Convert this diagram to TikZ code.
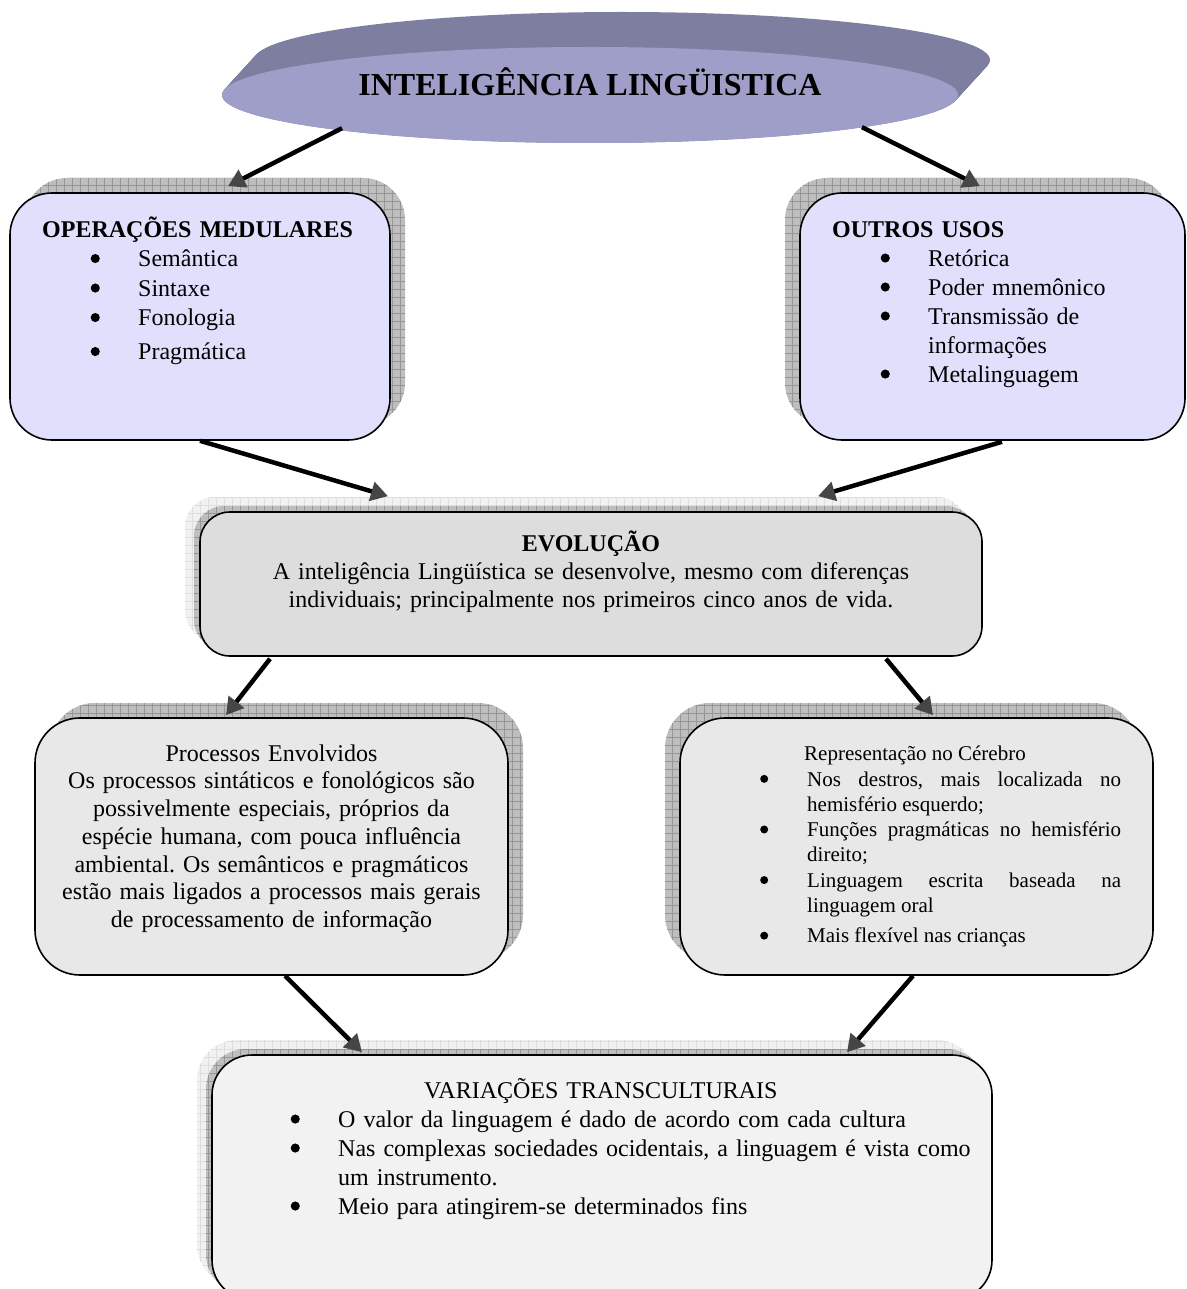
\documentclass[tikz,border=0pt]{standalone}
\usepackage{fontspec}
\setmainfont{Liberation Serif}
\usetikzlibrary{arrows.meta,patterns.meta,calc,shapes.geometric}

\definecolor{discfront}{RGB}{158,158,200}
\definecolor{disctop}{RGB}{126,127,160}
\definecolor{lavender}{RGB}{224,224,252}
\definecolor{evofill}{RGB}{221,221,221}
\definecolor{midfill}{RGB}{232,232,232}
\definecolor{varfill}{RGB}{242,242,242}
\definecolor{shadowbg}{RGB}{190,190,190}
\definecolor{shadowline}{RGB}{150,150,150}
\definecolor{paleshadow}{RGB}{241,241,241}
\definecolor{paleline}{RGB}{222,222,222}
\definecolor{tipgray}{RGB}{70,70,70}

% round bullet drawn as a small disc, scaled to the current font
\newcommand\bul{\tikz[baseline=-0.34em]\fill[black] (0,0) circle (0.19em);}
% bullet item: #1 = bullet indent, #2 = text indent, #3 = text
\newcommand\bitem[3]{\par\hangindent=#2\hangafter=1\noindent\makebox[#2][l]{\hspace*{#1}\bul}#3}

\tikzset{
  box/.style={draw=black, line width=1.6pt, inner sep=0pt},
  dropshade/.style={fill=shadowbg,
    postaction={pattern={Hatch[angle=0,distance=8pt,line width=0.7pt]}, pattern color=shadowline}},
  paleshade/.style={fill=paleshadow,
    postaction={pattern={Hatch[angle=0,distance=8pt,line width=0.6pt]}, pattern color=paleline}},
  txt/.style={inner sep=0pt, anchor=north west, align=left},
  conn/.style={line width=4.5pt, -{Triangle[length=17pt,width=19pt,color=tipgray]}},
}

\begin{document}
\frenchspacing
\begin{tikzpicture}[x=1pt,y=-1pt]
\useasboundingbox (0,0) rectangle (1186,1289);
\begin{scope}
\clip (0,0) rectangle (1186,1289);

% ---- title disc: extruded ellipse ----
\foreach \i in {0,...,40}
  \fill[disctop] ({622-0.8*\i},{60+0.875*\i}) ellipse [x radius=368, y radius=48];
\node[ellipse, fill=discfront, minimum width=736pt, minimum height=96pt, inner sep=0pt] (title) at (590,95) {};
\node[anchor=base, inner sep=0pt, font=\fontsize{32pt}{36pt}\selectfont\bfseries] (titletext) at (590,96) {INTELIGÊNCIA LINGÜISTICA};

% ---- shadows ----
\path[dropshade, rounded corners=42pt] (25,178) rectangle (405,425);
\path[dropshade, rounded corners=42pt] (785,178) rectangle (1170,425);
\path[paleshade, rounded corners=30pt] (185,497) rectangle (967,641);
\path[dropshade, rounded corners=30pt] (194,506) rectangle (976,650);
\path[dropshade, rounded corners=45pt] (50,703) rectangle (523,960);
\path[dropshade, rounded corners=45pt] (665,703) rectangle (1138,960);
\path[paleshade, rounded corners=40pt] (197,1040) rectangle (977,1285);
\path[dropshade, rounded corners=40pt] (206,1049) rectangle (986,1294);

% ---- boxes ----
\node[box, fill=lavender, rounded corners=42pt, minimum width=380pt, minimum height=247pt] (op) at (200,316.5) {};
\node[box, fill=lavender, rounded corners=42pt, minimum width=385pt, minimum height=247pt] (out) at (992.5,316.5) {};
\node[box, fill=evofill, rounded corners=30pt, minimum width=782pt, minimum height=144pt] (evo) at (591,584) {};
\node[box, fill=midfill, rounded corners=45pt, minimum width=473pt, minimum height=257pt] (proc) at (271.5,846.5) {};
\node[box, fill=midfill, rounded corners=45pt, minimum width=473pt, minimum height=257pt] (rep) at (916.5,846.5) {};
\node[box, fill=varfill, rounded corners=40pt, minimum width=780pt, minimum height=245pt] (var) at (602,1177.5) {};

% ---- texts ----
\node[txt, text width=340pt, font=\fontsize{24pt}{29.5pt}\selectfont] (optext) at (42,213) {%
  \rule{0pt}{24pt}\textbf{OPERAÇÕES MEDULARES}
  \bitem{48.5pt}{96pt}{Semântica}
  \bitem{48.5pt}{96pt}{Sintaxe}
  \bitem{48.5pt}{96pt}{Fonologia}
  \par\vspace{4.5pt}
  \bitem{48.5pt}{96pt}{Pragmática}};

\node[txt, text width=330pt, font=\fontsize{24pt}{29pt}\selectfont] (outtext) at (832,213) {%
  \rule{0pt}{24pt}\textbf{OUTROS USOS}
  \bitem{48.5pt}{96pt}{Retórica}
  \bitem{48.5pt}{96pt}{Poder mnemônico}
  \bitem{48.5pt}{96pt}{Transmissão de\newline informações}
  \bitem{48.5pt}{96pt}{Metalinguagem}};

\node[inner sep=0pt, anchor=north, align=center, text width=770pt, font=\fontsize{24pt}{28pt}\selectfont] (evotext) at (591,527) {%
  \rule{0pt}{24pt}\textbf{EVOLUÇÃO}\\
  A inteligência Lingüística se desenvolve, mesmo com diferenças\\
  individuais; principalmente nos primeiros cinco anos de vida.};

\node[inner sep=0pt, anchor=north, align=center, text width=460pt, font=\fontsize{24pt}{27.7pt}\selectfont] (proctext) at (271.5,737) {%
  \rule{0pt}{24pt}Processos Envolvidos\\
  Os processos sintáticos e fonológicos são\\
  possivelmente especiais, próprios da\\
  espécie humana, com pouca influência\\
  ambiental. Os semânticos e pragmáticos\\
  estão mais ligados a processos mais gerais\\
  de processamento de informação};

\node[inner sep=0pt, anchor=north west, align=justify, text width=363pt, font=\fontsize{21pt}{25.3pt}\selectfont] (reptext) at (758,739.5) {%
  \noindent\rule{0pt}{21pt}\hspace*{46pt}Representação no Cérebro
  \bitem{2pt}{49pt}{Nos destros, mais localizada no\linebreak hemisfério esquerdo;}
  \bitem{2pt}{49pt}{Funções pragmáticas no hemisfério\linebreak direito;}
  \bitem{2pt}{49pt}{Linguagem escrita baseada na\linebreak linguagem oral}
  \par\vspace{5pt}
  \bitem{2pt}{49pt}{Mais flexível nas crianças}};

\node[txt, text width=692pt, font=\fontsize{24pt}{29pt}\selectfont] (vartext) at (289,1074) {%
  \rule{0pt}{24pt}\hspace*{135pt}VARIAÇÕES TRANSCULTURAIS
  \bitem{1.5pt}{49pt}{O valor da linguagem é dado de acordo com cada cultura}
  \bitem{1.5pt}{49pt}{Nas complexas sociedades ocidentais, a linguagem é vista como\newline um instrumento.}
  \bitem{1.5pt}{49pt}{Meio para atingirem-se determinados fins}};

% ---- connectors ----
\draw[conn] ($(title.south)+(-248,-15)$) -- ($(op.north)+(28,-6)$);
\draw[conn] ($(title.south)+(272,-16)$) -- ($(out.north)+(-12.5,-6)$);
\draw[conn] ($(op.south)+(0,0)$) -- ($(evo.north)+(-203,-15)$);
\draw[conn] ($(out.south)+(9.5,1)$) -- ($(evo.north)+(227,-15)$);
\draw[conn] ($(evo.south)+(-321,2)$) -- ($(proc.north)+(-45.5,-2)$);
\draw[conn] ($(evo.south)+(295,2)$) -- ($(rep.north)+(16.5,-2)$);
\draw[conn] ($(proc.south)+(13.5,0)$) -- ($(var.north)+(-240,-2)$);
\draw[conn] ($(rep.south)+(-3.5,0)$) -- ($(var.north)+(245,-2)$);
\end{scope}
\end{tikzpicture}
\end{document}
